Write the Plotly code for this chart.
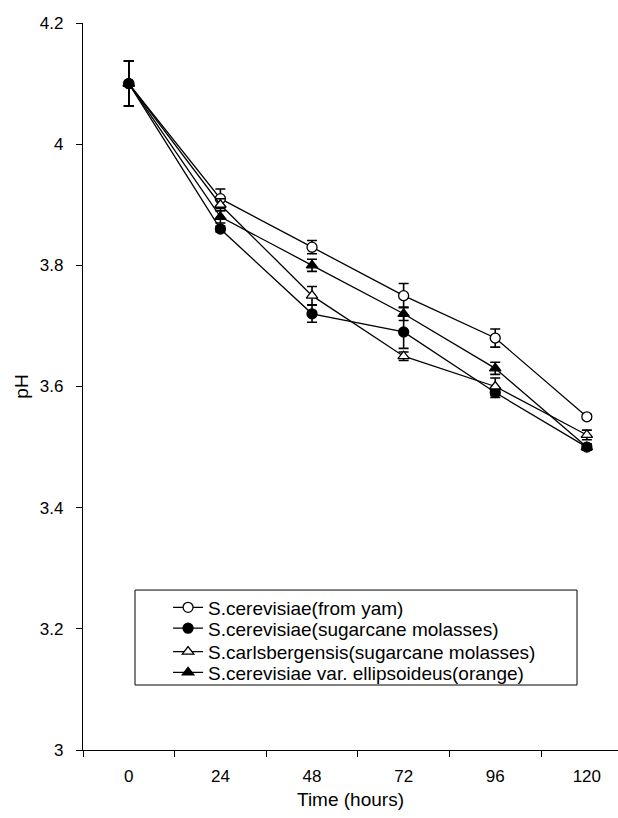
import plotly.graph_objects as go

time_labels = ["0", "24", "48", "72", "96", "120"]

names = [
    "S.cerevisiae(from yam)",
    "S.cerevisiae(sugarcane molasses)",
    "S.carlsbergensis(sugarcane molasses)",
    "S.cerevisiae var. ellipsoideus(orange)",
]

ph_yam = [4.10, 3.91, 3.83, 3.75, 3.68, 3.55]
ph_molasses = [4.10, 3.86, 3.72, 3.69, 3.59, 3.50]
ph_carls = [4.10, 3.90, 3.75, 3.65, 3.60, 3.52]
ph_orange = [4.10, 3.88, 3.80, 3.72, 3.63, 3.50]

err_yam = [0.037, 0.016, 0.011, 0.020, 0.015, 0.004]
err_molasses = [0.037, 0.005, 0.014, 0.027, 0.008, 0.005]
err_carls = [0.037, 0.010, 0.015, 0.007, 0.014, 0.008]
err_orange = [0.037, 0.010, 0.010, 0.011, 0.010, 0.005]

symbols = ["circle", "circle", "triangle-up", "triangle-up"]
fills = ["white", "black", "white", "black"]
series = [ph_yam, ph_molasses, ph_carls, ph_orange]
errors = [err_yam, err_molasses, err_carls, err_orange]

legend_ids = ["legend", "legend2", "legend3", "legend4"]
legend_rows_y = [0.1960, 0.1674, 0.1352, 0.1065]

fig = go.Figure()
for name, ys, es, sym, fc, lid in zip(names, series, errors, symbols, fills, legend_ids):
    fig.add_trace(go.Scatter(
        x=time_labels, y=ys, name=name, mode="lines+markers",
        legend=lid,
        line=dict(color="black", width=1.3),
        marker=dict(symbol=sym, size=10, color=fc,
                    line=dict(color="black", width=1.3)),
        error_y=dict(type="data", array=es, visible=True, color="black",
                     thickness=1.6, width=5),
    ))

legend_style = dict(x=0.159, xanchor="left", yanchor="middle",
                    borderwidth=0, bgcolor="rgba(0,0,0,0)",
                    font=dict(size=19), tracegroupgap=0, itemwidth=30)

fig.update_layout(
    width=618, height=818,
    margin=dict(l=83, r=0, t=23, b=68),
    paper_bgcolor="white", plot_bgcolor="white",
    font=dict(family="Liberation Sans, Arial, sans-serif", size=17, color="black"),
    showlegend=True,
    legend=dict(y=legend_rows_y[0], **legend_style),
    legend2=dict(y=legend_rows_y[1], **legend_style),
    legend3=dict(y=legend_rows_y[2], **legend_style),
    legend4=dict(y=legend_rows_y[3], **legend_style),
    shapes=[dict(type="rect", xref="paper", yref="paper",
                 x0=0.0972, x1=0.9234, y0=0.0894, y1=0.220,
                 line=dict(color="black", width=1), fillcolor="rgba(0,0,0,0)",
                 layer="above")],
)
fig.update_xaxes(
    type="category", range=[-0.5, 5.34], tickson="boundaries",
    showline=True, linecolor="black", linewidth=1.3,
    ticks="outside", ticklen=6, tickcolor="black", tickwidth=1.3,
    ticklabelstandoff=10, tickfont=dict(size=17),
    showgrid=False, zeroline=False, automargin=False,
    title=dict(text="Time (hours)", standoff=8, font=dict(size=19)),
)
fig.update_yaxes(
    range=[3, 4.2], tickvals=[3, 3.2, 3.4, 3.6, 3.8, 4, 4.2],
    ticktext=["3", "3.2", "3.4", "3.6", "3.8", "4", "4.2"],
    showline=True, linecolor="black", linewidth=1.3,
    ticks="outside", ticklen=6, tickcolor="black", tickwidth=1.3,
    ticklabelstandoff=9, tickfont=dict(size=17),
    showgrid=False, zeroline=False, automargin=False,
    title=dict(text="pH", standoff=6, font=dict(size=19)),
)

fig.write_html("out.html", config={"displayModeBar": False},
               post_script="document.body.style.margin='0';")
